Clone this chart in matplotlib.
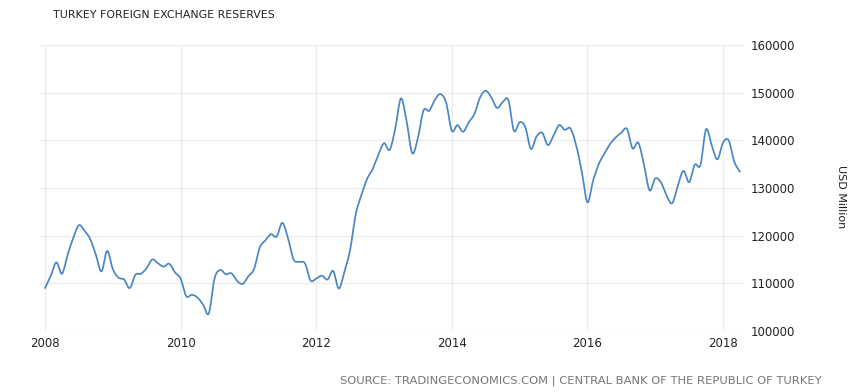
import numpy as np
import matplotlib.pyplot as plt

# monthly reserves, USD million, Jan 2008 .. Apr 2018
start_year = 2008
reserves = [
    109000, 111500, 114400, 112000, 116000, 119500, 122200, 121000, 119300, 116000, 112500, 116800,  # 2008
    113000, 111200, 110800, 109000, 111800, 112000, 113200, 115000, 114200, 113500, 114100, 112300,  # 2009
    111000, 107300, 107600, 107000, 105500, 103700, 111000, 112800, 111900, 112100, 110500, 109900,  # 2010
    111500, 113000, 117500, 119000, 120300, 119800, 122700, 119500, 115000, 114500, 114200, 110600,  # 2011
    111000, 111600, 110800, 112600, 108900, 112500, 117000, 124500, 128500, 131900, 134000, 137000,  # 2012
    139400, 138000, 142500, 148800, 144000, 137300, 140500, 146300, 146200, 148500, 149700, 147900,  # 2013
    142000, 143200, 141800, 143800, 145500, 149000, 150400, 149000, 146800, 148000, 148500, 142000,  # 2014
    143800, 142800, 138200, 140800, 141600, 139000, 141000, 143200, 142200, 142500, 139000, 133500,  # 2015
    127000, 131500, 135000, 137200, 139200, 140600, 141600, 142400, 138300, 139500, 135000, 129500,  # 2016
    132000, 131200, 128500, 126800, 130500, 133600, 131200, 134900, 134800, 142300, 139000, 136000,  # 2017
    139500, 140000, 135500, 133400,                                                                  # 2018
]
x_ticks = [2008, 2010, 2012, 2014, 2016, 2018]
y_ticks = [100000, 110000, 120000, 130000, 140000, 150000, 160000]

LINE = '#4a87c2'
GRID = '#ececec'
TEXT = '#222222'


def smooth(x, y, k=10):
    # catmull-rom through the monthly points, just for drawing
    x = np.asarray(x, float)
    y = np.asarray(y, float)
    px = np.concatenate([[2 * x[0] - x[1]], x, [2 * x[-1] - x[-2]]])
    py = np.concatenate([[2 * y[0] - y[1]], y, [2 * y[-1] - y[-2]]])
    xs, ys = [], []
    t = np.linspace(0, 1, k, endpoint=False)
    for i in range(1, len(px) - 2):
        for p, out in ((px, xs), (py, ys)):
            p0, p1, p2, p3 = p[i - 1], p[i], p[i + 1], p[i + 2]
            out.append(0.5 * (2 * p1 + (-p0 + p2) * t + (2 * p0 - 5 * p1 + 4 * p2 - p3) * t ** 2
                              + (-p0 + 3 * p1 - 3 * p2 + p3) * t ** 3))
    xs.append([x[-1]])
    ys.append([y[-1]])
    return np.concatenate(xs), np.concatenate(ys)


dates = start_year + np.arange(len(reserves)) / 12.0
sx, sy = smooth(dates, reserves)

fig = plt.figure(figsize=(8.54, 3.92), dpi=100)
ax = fig.add_axes([40 / 854, 1 - 331 / 392, 705 / 854, 286 / 392])

ax.plot(sx, sy, color=LINE, linewidth=1.25, solid_capstyle='round')

ax.set_xlim(2008 - 5 / 67.8, 2008 + 700 / 67.8)
ax.set_ylim(100000, 160000)
ax.set_xticks(x_ticks)
ax.set_yticks(y_ticks)
ax.grid(True, color=GRID, linewidth=1)
ax.set_axisbelow(True)
for s in ax.spines.values():
    s.set_visible(False)
ax.yaxis.tick_right()
ax.tick_params(length=0, labelsize=8.5, colors=TEXT, pad=4)

fig.text(53 / 854, 1 - 15 / 392, 'TURKEY FOREIGN EXCHANGE RESERVES', fontsize=7.9,
         color=TEXT, va='center', ha='left')
fig.text(841 / 854, 1 - 197 / 392, 'USD Million', rotation=270, fontsize=8,
         color=TEXT, va='center', ha='center')
fig.text(822 / 854, 1 - 381 / 392,
         'SOURCE: TRADINGECONOMICS.COM | CENTRAL BANK OF THE REPUBLIC OF TURKEY',
         fontsize=8.25, color='#777777', va='center', ha='right')

fig.savefig('out.png', dpi=100)
